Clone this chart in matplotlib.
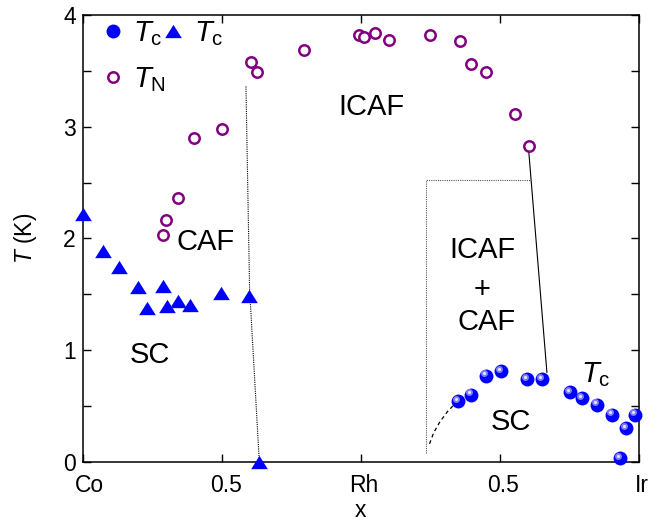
import matplotlib
matplotlib.use('Agg')
import matplotlib.pyplot as plt
from matplotlib.lines import Line2D
from matplotlib.transforms import offset_copy, ScaledTranslation

plt.rcParams['font.family'] = ['Liberation Sans', 'DejaVu Sans']
plt.rcParams['mathtext.fontset'] = 'custom'
plt.rcParams['mathtext.rm'] = 'Liberation Sans'
plt.rcParams['mathtext.it'] = 'Liberation Sans:italic'

# composite x axis: 0..1 is Co(1-x)Rh(x), 1..2 is Rh(1-x)Ir(x)
xtick_pos = [0, 0.5, 1, 1.5, 2]
xtick_labels = ['Co', '0.5', 'Rh', '0.5', 'Ir']

# Tc (triangles, Co-Rh side)
tri_x = [0.0, 0.072, 0.132, 0.198, 0.23, 0.29, 0.302, 0.344, 0.386, 0.496, 0.599, 0.635]
tri_tc = [2.22, 1.89, 1.74, 1.56, 1.38, 1.57, 1.39, 1.44, 1.40, 1.51, 1.48, 0.0]

# TN (open circles)
tn_x = [0.29, 0.30, 0.344, 0.40, 0.50, 0.604, 0.628, 0.796, 0.995, 1.01, 1.051,
        1.10, 1.249, 1.355, 1.396, 1.45, 1.553, 1.603]
tn = [2.03, 2.16, 2.36, 2.90, 2.98, 3.58, 3.49, 3.69, 3.82, 3.80, 3.84,
      3.78, 3.82, 3.77, 3.56, 3.49, 3.11, 2.83]

# Tc (spheres, Rh-Ir side)
sph_x = [1.349, 1.396, 1.45, 1.504, 1.599, 1.651, 1.753, 1.795, 1.849, 1.903, 1.953, 1.987, 1.933]
sph_tc = [0.54, 0.60, 0.77, 0.81, 0.74, 0.74, 0.62, 0.57, 0.51, 0.42, 0.30, 0.42, 0.03]

# phase boundaries
caf_edge_x = [0.587, 0.600, 0.635]
caf_edge_t = [3.36, 1.55, 0.0]
mix_box_x = [1.234, 1.234, 1.607]
mix_box_t = [0.08, 2.52, 2.52]
mix_edge_x = [1.603, 1.669]
mix_edge_t = [2.80, 0.80]
dome_x = [1.247, 1.262, 1.285, 1.312, 1.339]
dome_t = [0.16, 0.26, 0.36, 0.45, 0.52]

blue = '#0000ff'
purple = '#800080'
tri = [(-1, -0.8), (1, -0.8), (0, 0.8)]

fig = plt.figure(figsize=(6.7, 5.24), dpi=100)
ax = fig.add_axes([0.1234, 0.1189, 0.8303, 0.8525])

ax.plot(caf_edge_x, caf_edge_t, color='black', lw=0.8, ls=(0, (1, 1)))
ax.plot(mix_box_x, mix_box_t, color='#555555', lw=0.8, ls=(0, (1, 1)))
ax.plot(mix_edge_x, mix_edge_t, color='black', lw=0.8)
ax.plot(dome_x, dome_t, color='black', lw=0.9, ls=(0, (3, 2.5)))

ax.plot(tn_x, tn, 'o', ms=7.5, mfc='white', mec=purple, mew=1.8, ls='none', zorder=3)
ax.plot(tri_x, tri_tc, marker=tri, ms=12, color=blue, mec='none', ls='none', clip_on=False, zorder=4)

# glossy spheres: blue ball plus a light spot towards the upper left
ax.plot(sph_x, sph_tc, 'o', ms=10, color=blue, mec='none', ls='none', clip_on=False, zorder=4)
shine = offset_copy(ax.transData, fig=fig, x=-2, y=2.5, units='dots')
ax.plot(sph_x, sph_tc, 'o', ms=5, color='#7f7fff', mec='none', ls='none', transform=shine, clip_on=False, zorder=5)
ax.plot(sph_x, sph_tc, 'o', ms=2.2, color='#e6e6ff', mec='none', ls='none', transform=shine, clip_on=False, zorder=6)

fs = 21
ax.text(1.037, 3.18, 'ICAF', fontsize=fs, ha='center', va='center')
ax.text(0.44, 1.97, 'CAF', fontsize=fs, ha='center', va='center')
ax.text(0.242, 0.955, 'SC', fontsize=fs, ha='center', va='center')
ax.text(1.439, 1.895, 'ICAF', fontsize=fs, ha='center', va='center')
ax.text(1.437, 1.54, '+', fontsize=fs, ha='center', va='center')
ax.text(1.452, 1.253, 'CAF', fontsize=fs, ha='center', va='center')
ax.text(1.541, 0.358, 'SC', fontsize=fs, ha='center', va='center')
ax.text(1.79, 0.78, r'$T_{\rm c}$', fontsize=fs, ha='left', va='center')

handles = [
    Line2D([], [], marker='o', ms=10, color=blue, mec='none', ls='none'),
    Line2D([], [], marker='o', ms=7.5, mfc='white', mec=purple, mew=1.8, ls='none'),
    Line2D([], [], marker=tri, ms=12, color=blue, mec='none', ls='none'),
]
labels = [r'$T_{\rm c}$', r'$T_{\rm N}$', r'$T_{\rm c}$']
ax.legend(handles, labels, ncol=2, loc='upper left', bbox_to_anchor=(0.002, 1.03),
          frameon=False, fontsize=fs, handlelength=0.8, handletextpad=0.3,
          columnspacing=-0.15, labelspacing=0.6, borderaxespad=0.2)

ax.set_xlim(0, 2)
ax.set_ylim(0, 4)
ax.set_xticks(xtick_pos)
ax.set_xticklabels(xtick_labels)
ax.set_yticks([0, 1, 2, 3, 4])
ax.set_yticks([0.5, 1.5, 2.5, 3.5], minor=True)
ax.tick_params(which='both', direction='in', top=True, right=True, length=6, width=1,
               labelsize=16.5)
ax.tick_params(axis='x', pad=9)
ax.tick_params(axis='y', pad=5)
for sp in ax.spines.values():
    sp.set_linewidth(1.1)

# nudge the x tick labels a little to the right
for lab, dx in zip(ax.get_xticklabels(), [7, 4, 3, 3, 3]):
    lab.set_transform(lab.get_transform() + ScaledTranslation(dx / 100, 0, fig.dpi_scale_trans))

ax.set_xlabel('x', fontsize=16.5, labelpad=1)
ax.set_ylabel(r'$T$ (K)', fontsize=16.5, labelpad=17)

fig.savefig('out.png', dpi=100)
